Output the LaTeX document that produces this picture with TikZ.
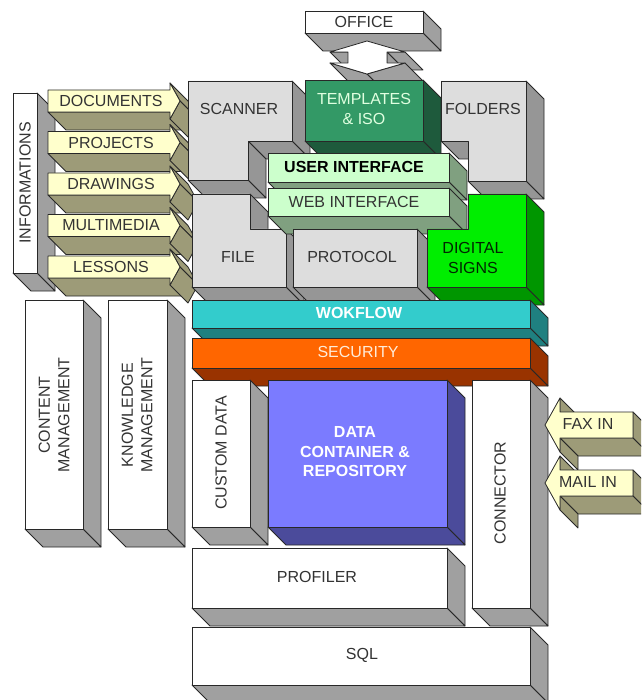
\documentclass[tikz,border=0pt]{standalone}
\usepackage{fontspec}
\setmainfont{Liberation Sans}
\usetikzlibrary{calc}

\definecolor{borde}{RGB}{40,40,40}
\definecolor{textogris}{RGB}{51,51,51}
\definecolor{grisclaro}{RGB}{221,221,221}
\definecolor{grismedio}{RGB}{150,150,150}
\definecolor{grisblanco}{RGB}{160,160,160}
\definecolor{crema}{RGB}{255,255,204}
\definecolor{oliva}{RGB}{157,155,120}
\definecolor{verdeiso}{RGB}{51,153,102}
\definecolor{verdeisoosc}{RGB}{30,90,60}
\definecolor{verdepalido}{RGB}{204,255,204}
\definecolor{verdegris}{RGB}{128,160,128}
\definecolor{verdevivo}{RGB}{0,238,0}
\definecolor{verdevivoosc}{RGB}{0,150,0}
\definecolor{turquesa}{RGB}{51,204,204}
\definecolor{turquesaosc}{RGB}{31,128,128}
\definecolor{naranja}{RGB}{255,102,0}
\definecolor{naranjaosc}{RGB}{153,51,0}
\definecolor{violeta}{RGB}{123,123,255}
\definecolor{violetaosc}{RGB}{75,75,155}

\tikzset{
  cara/.style={draw=borde, line width=0.8pt, line join=round},
  gris cara/.style={cara, fill=grisclaro},
  gris lado/.style={cara, fill=grismedio},
  blanco cara/.style={cara, fill=white},
  blanco lado/.style={cara, fill=grisblanco},
  amarillo cara/.style={cara, fill=crema},
  amarillo lado/.style={cara, fill=oliva},
  plantilla cara/.style={cara, fill=verdeiso},
  plantilla lado/.style={cara, fill=verdeisoosc},
  interfaz cara/.style={cara, fill=verdepalido},
  interfaz lado/.style={cara, fill=verdegris},
  digital cara/.style={cara, fill=verdevivo},
  digital lado/.style={cara, fill=verdevivoosc},
  flujo cara/.style={cara, fill=turquesa},
  flujo lado/.style={cara, fill=turquesaosc},
  seguridad cara/.style={cara, fill=naranja},
  seguridad lado/.style={cara, fill=naranjaosc},
  datos cara/.style={cara, fill=violeta},
  datos lado/.style={cara, fill=violetaosc},
  etiqueta/.style={font=\fontsize{16}{19.5}\selectfont, text=textogris, align=center, inner sep=0pt}
}

% profundidad de la extrusion
\def\prof{18}
% cara lateral de una arista
\newcommand{\lado}[3]{\filldraw[#1] (#2) -- ($(#2)+(\prof,\prof)$) -- ($(#3)+(\prof,\prof)$) -- (#3) -- cycle;}
% bloque rectangular: familia, x1, y1, x2, y2
\newcommand{\bloque}[5]{%
  \lado{#1 lado}{#4,#3}{#4,#5}
  \lado{#1 lado}{#4,#5}{#2,#5}
  \filldraw[#1 cara] (#2,#3) rectangle (#4,#5);}
% flecha hacia la derecha: y superior, nombre, texto
\newcommand{\flechader}[3]{%
  \lado{amarillo lado}{48,#1+22}{170,#1+22}
  \lado{amarillo lado}{170,#1-7}{180,#1+11}
  \lado{amarillo lado}{180,#1+11}{170,#1+29}
  \filldraw[amarillo cara] (48,#1) -- (170,#1) -- (170,#1-7) -- (180,#1+11) -- (170,#1+29) -- (170,#1+22) -- (48,#1+22) -- cycle;
  \node[etiqueta] (#2) at (111,#1+11) {#3};}
% flecha hacia la izquierda: y superior, nombre, texto
\newcommand{\flechaizq}[3]{%
  \lado{amarillo lado}{633,#1}{633,#1+26}
  \lado{amarillo lado}{633,#1+26}{560,#1+26}
  \lado{amarillo lado}{560,#1+26}{560,#1+40}
  \lado{amarillo lado}{560,#1-14}{560,#1}
  \filldraw[amarillo cara] (560,#1) -- (633,#1) -- (633,#1+26) -- (560,#1+26) -- (560,#1+40) -- (545,#1+13) -- (560,#1-14) -- cycle;
  \node[etiqueta] (#2) at (588,#1+12) {#3};}

\begin{document}
\begin{tikzpicture}[x=1pt, y=-1pt]
  \useasboundingbox (0,0) rectangle (641,700);
  \clip (0,0) rectangle (641,700);
  \fill[white] (0,0) rectangle (641,700);

  % OFFICE
  \bloque{blanco}{305}{11}{423}{33}
  \node[etiqueta] (office) at (364,22) {OFFICE};

  % doble flecha hacia las plantillas
  \lado{blanco lado}{405,52}{387,52}
  \lado{blanco lado}{387,52}{387,63}
  \lado{blanco lado}{348,52}{330,52}
  \lado{blanco lado}{405,63}{367,74}
  \lado{blanco lado}{367,74}{330,63}
  \filldraw[blanco cara] (367,41) -- (405,52) -- (387,52) -- (387,63) -- (405,63) -- (367,74) -- (330,63) -- (348,63) -- (348,52) -- (330,52) -- cycle;

  % INFORMATIONS y sus flechas
  \bloque{blanco}{13}{93}{37}{273}
  \node[etiqueta, rotate=90] (info) at (25,183) {INFORMATIONS};
  \flechader{90}{documentos}{DOCUMENTS}
  \flechader{131.5}{proyectos}{PROJECTS}
  \flechader{173}{dibujos}{DRAWINGS}
  \flechader{214.5}{multimedia}{MULTIMEDIA}
  \flechader{256}{lecciones}{LESSONS}

  % SCANNER
  \lado{gris lado}{292,81}{292,141}
  \lado{gris lado}{292,141}{248,141}
  \lado{gris lado}{248,141}{248,180}
  \lado{gris lado}{248,180}{188,180}
  \filldraw[gris cara] (188,81) -- (292,81) -- (292,141) -- (248,141) -- (248,180) -- (188,180) -- cycle;
  \node[etiqueta] (scanner) at (239,109) {SCANNER};

  % TEMPLATES
  \bloque{plantilla}{305}{80}{423}{141}
  \node[etiqueta, text=verdepalido!60!white] (plantillas) at (364,109) {TEMPLATES\\\& ISO};

  % FOLDERS
  \lado{gris lado}{526,81}{526,181}
  \lado{gris lado}{526,181}{468,181}
  \lado{gris lado}{468,141}{441,141}
  \filldraw[gris cara] (441,81) -- (526,81) -- (526,181) -- (468,181) -- (468,141) -- (441,141) -- cycle;
  \node[etiqueta] (carpetas) at (483,109) {FOLDERS};

  % USER INTERFACE
  \bloque{interfaz}{268}{153}{449}{182}
  \node[etiqueta, text=black, font=\fontsize{16}{19.5}\selectfont\bfseries] (usuario) at (354,167) {USER INTERFACE};

  % FILE
  \lado{gris lado}{250,194}{250,229}
  \lado{gris lado}{286,229}{286,287}
  \lado{gris lado}{286,287}{192,287}
  \filldraw[gris cara] (192,194) -- (250,194) -- (250,229) -- (286,229) -- (286,287) -- (192,287) -- cycle;
  \node[etiqueta] (archivo) at (238,257) {FILE};

  % WEB INTERFACE
  \bloque{interfaz}{268}{188}{449}{216}
  \node[etiqueta] (web) at (354,202) {WEB INTERFACE};

  % PROTOCOL
  \bloque{gris}{293}{229}{417}{287}
  \node[etiqueta] (protocolo) at (352,257) {PROTOCOL};

  % DIGITAL SIGNS
  \lado{digital lado}{526,194}{526,287}
  \lado{digital lado}{526,287}{427,287}
  \filldraw[digital cara] (468,194) -- (526,194) -- (526,287) -- (427,287) -- (427,229) -- (468,229) -- cycle;
  \node[etiqueta, text=black!85!green] (firmas) at (473,258) {DIGITAL\\SIGNS};

  % WOKFLOW y SECURITY
  \bloque{flujo}{192}{300}{530}{328}
  \node[etiqueta, text=white, font=\fontsize{16}{19.5}\selectfont\bfseries] (flujo) at (359,313) {WOKFLOW};
  \bloque{seguridad}{192}{338}{530}{368}
  \node[etiqueta, text=orange!15!white] (seguridad) at (358,352) {SECURITY};

  % CUSTOM DATA, DATA CONTAINER y CONNECTOR
  \bloque{blanco}{192}{380}{250}{527}
  \node[etiqueta, rotate=90] (custom) at (221,453) {CUSTOM DATA};
  \bloque{datos}{268}{380}{447}{527}
  \node[etiqueta, text=white, font=\fontsize{16}{19.5}\selectfont\bfseries] (contenedor) at (355,452) {DATA\\CONTAINER \&\\REPOSITORY};
  \bloque{blanco}{472}{380}{530}{608}
  \node[etiqueta, rotate=90] (conector) at (500,493) {CONNECTOR};

  % PROFILER y SQL
  \bloque{blanco}{192}{548}{447}{608}
  \node[etiqueta] (perfil) at (317,577) {PROFILER};
  \bloque{blanco}{192}{627}{530}{685}
  \node[etiqueta] (sql) at (362,655) {SQL};

  % columnas de gestion
  \bloque{blanco}{25}{300}{83}{529}
  \node[etiqueta, rotate=90] (contenido) at (54,415) {CONTENT\\MANAGEMENT};
  \bloque{blanco}{108}{300}{167}{529}
  \node[etiqueta, rotate=90] (conocimiento) at (137,415) {KNOWLEDGE\\MANAGEMENT};

  % entradas por la derecha
  \flechaizq{412}{fax}{FAX IN}
  \flechaizq{470}{correo}{MAIL IN}
\end{tikzpicture}
\end{document}
